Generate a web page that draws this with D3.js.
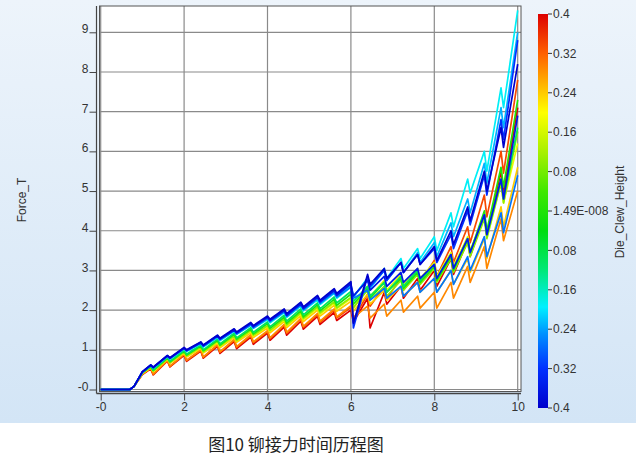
<!DOCTYPE html>
<html><head><meta charset="utf-8">
<script src="https://cdn.jsdelivr.net/npm/d3@7"></script>
<style>
body{margin:0;background:#fff;}
svg{display:block;font-family:"Liberation Sans",Arial,sans-serif;}
</style></head>
<body><svg id="chart" width="641" height="456"></svg>
<script>
// ---- data ----
const times = [0,0.7,0.8,1.0,1.2,1.26,1.6,1.66,2.0,2.06,2.4,2.46,2.8,2.86,3.2,3.26,3.6,3.66,4.0,4.06,4.4,4.46,4.8,4.86,5.2,5.26,5.6,5.66,6.0,6.06,6.4,6.46,6.8,6.86,7.2,7.26,7.6,7.66,8.0,8.06,8.4,8.46,8.8,8.86,9.2,9.26,9.6,9.66,10.0];

const clewHeights = [-0.4,-0.36,-0.32,-0.27,-0.23,-0.19,-0.1,0.0,0.1,0.18,0.24,0.29,0.34,0.4];

const curve01 = [0,0,0.08,0.45, 0.62,0.56, 0.86,0.80, 1.06,1.00, 1.20,1.12, 1.37,1.29, 1.53,1.45, 1.69,1.61, 1.85,1.77, 2.03,1.91, 2.20,2.08, 2.37,2.25, 2.54,2.42, 2.72,1.67, 2.90,2.65, 3.05,2.80, 3.20,2.95, 3.40,3.15, 3.60,3.25, 4.00,3.65, 4.60,4.25, 5.50,5.00, 6.60,6.10, 8.20];
const curve02 = [0,0,0.08,0.44, 0.61,0.55, 0.85,0.79, 1.04,0.98, 1.18,1.10, 1.35,1.27, 1.50,1.42, 1.66,1.58, 1.82,1.74, 1.99,1.87, 2.16,2.04, 2.33,2.21, 2.49,2.37, 2.66,2.36, 2.75,2.50, 2.85,2.60, 2.95,2.70, 3.05,2.80, 3.15,2.80, 3.40,3.05, 3.80,3.45, 4.40,3.90, 5.30,4.80, 6.90];
const curve03 = [0,0,0.08,0.45, 0.62,0.56, 0.85,0.79, 1.05,0.99, 1.19,1.11, 1.36,1.28, 1.51,1.43, 1.67,1.59, 1.83,1.75, 2.01,1.89, 2.18,2.06, 2.34,2.22, 2.51,2.39, 2.68,1.55, 2.85,2.60, 3.00,2.75, 3.20,2.95, 3.40,3.15, 3.55,3.20, 3.90,3.55, 4.50,4.15, 5.40,4.90, 6.80,6.30, 8.80];
const curve04 = [0,0,0.08,0.44, 0.61,0.55, 0.84,0.78, 1.03,0.97, 1.17,1.09, 1.33,1.25, 1.48,1.40, 1.63,1.55, 1.79,1.71, 1.96,1.84, 2.13,2.01, 2.29,2.17, 2.45,2.33, 2.58,2.30, 2.50,2.25, 2.55,2.30, 2.60,2.35, 2.70,2.45, 2.80,2.45, 3.00,2.65, 3.35,3.00, 3.85,3.35, 4.45,3.95, 5.40];
const curve05 = [0,0,0.08,0.44, 0.61,0.55, 0.84,0.78, 1.04,0.98, 1.17,1.09, 1.34,1.26, 1.49,1.41, 1.65,1.57, 1.80,1.72, 1.97,1.85, 2.14,2.02, 2.31,2.19, 2.47,2.35, 2.63,2.33, 2.80,2.55, 3.00,2.75, 3.20,2.95, 3.45,3.20, 3.70,3.35, 4.20,3.85, 4.80,4.45, 5.70,5.20, 7.10,6.60, 9.00];
const curve06 = [0,0,0.08,0.44, 0.60,0.54, 0.83,0.77, 1.02,0.96, 1.15,1.07, 1.31,1.23, 1.47,1.39, 1.62,1.54, 1.76,1.68, 1.94,1.82, 2.10,1.98, 2.26,2.14, 2.42,2.30, 2.58,2.33, 2.80,2.55, 3.05,2.80, 3.30,3.05, 3.55,3.30, 3.85,3.50, 4.45,4.10, 5.30,4.95, 6.00,5.50, 7.60,7.10, 9.55];
const curve07 = [0,0,0.08,0.43, 0.59,0.49, 0.81,0.71, 0.99,0.89, 1.12,1.00, 1.27,1.15, 1.42,1.30, 1.56,1.44, 1.70,1.58, 1.87,1.72, 2.03,1.88, 2.18,2.03, 2.33,2.18, 2.47,2.22, 2.60,2.35, 2.70,2.45, 2.85,2.60, 3.00,2.75, 3.15,2.80, 3.40,3.05, 3.80,3.45, 4.40,3.90, 5.30,4.80, 6.60];
const curve08 = [0,0,0.08,0.42, 0.58,0.48, 0.80,0.70, 0.97,0.87, 1.10,0.98, 1.24,1.12, 1.39,1.27, 1.52,1.40, 1.66,1.54, 1.82,1.67, 1.98,1.83, 2.13,1.98, 2.27,2.12, 2.40,2.15, 2.55,2.30, 2.70,2.45, 2.80,2.55, 2.95,2.70, 3.10,2.75, 3.35,3.00, 3.80,3.45, 4.50,4.00, 5.60,5.10, 7.30];
const curve09 = [0,0,0.08,0.42, 0.57,0.47, 0.78,0.68, 0.95,0.85, 1.07,0.95, 1.22,1.10, 1.35,1.23, 1.49,1.37, 1.61,1.49, 1.78,1.63, 1.94,1.79, 2.08,1.93, 2.21,2.06, 2.32,2.07, 2.50,2.25, 2.60,2.35, 2.75,2.50, 2.90,2.65, 3.05,2.70, 3.30,2.95, 3.70,3.35, 4.30,3.80, 5.20,4.70, 6.50];
const curve10 = [0,0,0.08,0.41, 0.56,0.46, 0.78,0.68, 0.94,0.84, 1.06,0.94, 1.20,1.08, 1.34,1.22, 1.47,1.35, 1.59,1.47, 1.75,1.60, 1.91,1.76, 2.05,1.90, 2.18,2.03, 2.29,2.04, 2.60,2.35, 2.75,2.50, 2.90,2.65, 3.05,2.80, 3.20,2.85, 3.45,3.10, 3.85,3.50, 4.40,3.90, 5.20,4.70, 6.20];
const curve11 = [0,0,0.08,0.40, 0.55,0.45, 0.76,0.66, 0.92,0.82, 1.04,0.92, 1.17,1.05, 1.31,1.19, 1.43,1.31, 1.55,1.43, 1.71,1.56, 1.86,1.71, 2.00,1.85, 2.12,1.97, 2.22,1.97, 2.40,2.15, 2.50,2.25, 2.60,2.35, 2.70,2.45, 2.80,2.45, 3.00,2.65, 3.30,2.95, 3.80,3.30, 4.60,4.10, 5.60];
const curve12 = [0,0,0.08,0.39, 0.54,0.39, 0.74,0.59, 0.89,0.74, 1.00,0.82, 1.13,0.95, 1.26,1.08, 1.38,1.20, 1.48,1.30, 1.64,1.44, 1.79,1.59, 1.92,1.72, 2.03,1.83, 2.11,1.81, 2.10,1.80, 2.15,1.85, 2.25,1.95, 2.35,2.05, 2.45,2.05, 2.70,2.30, 3.10,2.70, 3.60,3.05, 4.30,3.75, 5.00];
const curve13 = [0,0,0.08,0.39, 0.53,0.38, 0.73,0.58, 0.88,0.73, 0.99,0.81, 1.12,0.94, 1.24,1.06, 1.36,1.18, 1.46,1.28, 1.62,1.42, 1.77,1.57, 1.89,1.69, 2.00,1.80, 2.07,1.77, 2.40,2.10, 2.60,2.30, 2.80,2.50, 3.00,2.70, 3.25,2.85, 3.60,3.20, 4.10,3.70, 4.90,4.35, 6.00,5.45, 7.80];
const curve14 = [0,0,0.08,0.38, 0.52,0.37, 0.72,0.57, 0.86,0.71, 0.97,0.79, 1.09,0.91, 1.21,1.03, 1.32,1.14, 1.42,1.24, 1.57,1.37, 1.72,1.52, 1.84,1.64, 1.94,1.74, 2.00,1.70, 2.30,1.55, 2.45,2.15, 2.60,2.30, 2.80,2.50, 3.00,2.60, 3.30,2.90, 3.75,3.35, 4.40,3.85, 5.50,4.95, 7.10];

const xTicks = [0,2,4,6,8,10];
const xTickLabels = ["-0","2","4","6","8","10"];
const yTicks = [0,1,2,3,4,5,6,7,8,9];
const yTickLabels = ["-0","1","2","3","4","5","6","7","8","9"];
const barTicks = [0.4,0.32,0.24,0.16,0.08,0,-0.08,-0.16,-0.24,-0.32,-0.4];
const barTickLabels = ["0.4","0.32","0.24","0.16","0.08","1.49E-008","0.08","0.16","0.24","0.32","0.4"];
const colorStops = [-0.4,-0.32,-0.25,-0.195,-0.12,-0.04,0.04,0.12,0.2,0.26,0.32,0.4];
const colorValues = ["#0000cc","#0030ff","#0090ff","#00f0ff","#00e878","#00dd10","#40e800","#a8f000","#ffff00","#ffb000","#ff6000","#dd0000"];
const titleText = "图10 铆接力时间历程图";
const yTitle = "Force_T";
const barTitle = "Die_Clew_Height";

// ---- build ----
const curves = [curve01,curve02,curve03,curve04,curve05,curve06,curve07,curve08,curve09,curve10,curve11,curve12,curve13,curve14];
const series = curves.map((vals,i)=>({h:clewHeights[i], pts: vals.map((v,j)=>[times[j],v])}));

const svg = d3.select("#chart");
const defs = svg.append("defs");

// panel background gradient
const bg = defs.append("linearGradient").attr("id","bg").attr("x1",0).attr("y1",0).attr("x2",0).attr("y2",1);
bg.append("stop").attr("offset","0%").attr("stop-color","#edf4fb");
bg.append("stop").attr("offset","100%").attr("stop-color","#d3e5f6");
svg.append("rect").attr("x",0).attr("y",0).attr("width",636).attr("height",423).attr("fill","url(#bg)");

const x = d3.scaleLinear().domain([0,10]).range([100.7,517.7]);
const y = d3.scaleLinear().domain([0,9]).range([389.5,32.3]);
const color = d3.scaleLinear().domain(colorStops).range(colorValues);

const plotL = 99.5, plotR = 521, plotT = 6, plotB = 391.5;
svg.append("rect").attr("x",plotL).attr("y",plotT).attr("width",plotR-plotL).attr("height",plotB-plotT).attr("fill","#fff");

defs.append("clipPath").attr("id","clip").append("rect").attr("x",plotL).attr("y",plotT).attr("width",plotR-plotL).attr("height",plotB-plotT);

// grid
const grid = svg.append("g").attr("stroke","#8a8a8a").attr("stroke-width",1.2);
grid.selectAll("line.h").data(yTicks).join("line").attr("class","h")
  .attr("x1",plotL).attr("x2",plotR).attr("y1",d=>y(d)).attr("y2",d=>y(d));
grid.selectAll("line.v").data(xTicks).join("line").attr("class","v")
  .attr("y1",plotT).attr("y2",plotB).attr("x1",d=>x(d)).attr("x2",d=>x(d));

// curves
const line = d3.line().x(d=>x(d[0])).y(d=>y(d[1]));
const drawOrder = series.slice().sort((a,b)=>b.h-a.h);
svg.append("g").attr("clip-path","url(#clip)")
  .selectAll("path").data(drawOrder).join("path")
  .attr("d",d=>line(d.pts)).attr("fill","none")
  .attr("stroke",d=>color(d.h)).attr("stroke-width",1.7).attr("stroke-linejoin","round");

// plot border
svg.append("rect").attr("x",plotL).attr("y",plotT).attr("width",plotR-plotL).attr("height",plotB-plotT)
  .attr("fill","none").attr("stroke","#555").attr("stroke-width",1);

// axes
const yAxis = d3.axisLeft(y).tickValues(yTicks).tickFormat((d,i)=>yTickLabels[i]).tickSize(7).tickSizeOuter(0).tickPadding(1);
const gy = svg.append("g").attr("transform","translate(96.5,0)").call(yAxis);
gy.select(".domain").remove();
gy.selectAll("text").attr("dy","0.05em").attr("font-size",12).attr("fill","#333").attr("font-family","Liberation Sans, Arial, sans-serif");
gy.selectAll("line").attr("stroke","#444");
svg.append("line").attr("x1",96.5).attr("x2",96.5).attr("y1",plotT).attr("y2",393.5).attr("stroke","#444").attr("stroke-width",1.2);

const xAxis = d3.axisBottom(x).tickValues(xTicks).tickFormat((d,i)=>xTickLabels[i]).tickSize(7).tickSizeOuter(0).tickPadding(2);
const gx = svg.append("g").attr("transform","translate(0,393.5)").call(xAxis);
gx.select(".domain").remove();
gx.selectAll("text").attr("font-size",12).attr("fill","#333").attr("font-family","Liberation Sans, Arial, sans-serif");
gx.selectAll("line").attr("stroke","#444");
svg.append("line").attr("x1",96.5).attr("x2",plotR).attr("y1",393.5).attr("y2",393.5).attr("stroke","#444").attr("stroke-width",1.5);

// y title
svg.append("text").attr("transform","translate(26,200) rotate(-90)").attr("text-anchor","middle")
  .attr("font-size",12).attr("fill","#333").text(yTitle);

// colorbar
const cb = d3.scaleLinear().domain([-0.4,0.4]).range([408,14]);
const grad = defs.append("linearGradient").attr("id","cbar").attr("x1",0).attr("y1",1).attr("x2",0).attr("y2",0);
colorStops.forEach((s,i)=>grad.append("stop").attr("offset",((s+0.4)/0.8*100)+"%").attr("stop-color",colorValues[i]));
svg.append("rect").attr("x",538).attr("y",14).attr("width",10).attr("height",394).attr("fill","url(#cbar)");
const cbg = svg.append("g");
cbg.selectAll("line").data(barTicks).join("line")
  .attr("x1",548).attr("x2",552).attr("y1",d=>cb(d)).attr("y2",d=>cb(d)).attr("stroke","#333");
cbg.selectAll("text").data(barTicks).join("text")
  .attr("x",553).attr("y",d=>cb(d)).attr("dy","0.35em").attr("font-size",12).attr("fill","#333")
  .text((d,i)=>barTickLabels[i]);
svg.append("text").attr("transform","translate(624,212) rotate(-90)").attr("text-anchor","middle")
  .attr("font-size",12).attr("fill","#333").text(barTitle);

// title
svg.append("text").attr("x",296).attr("y",451).attr("text-anchor","middle")
  .attr("font-family","Noto Sans CJK SC, sans-serif").attr("font-size",17).attr("fill","#222").text(titleText);
</script></body></html>
